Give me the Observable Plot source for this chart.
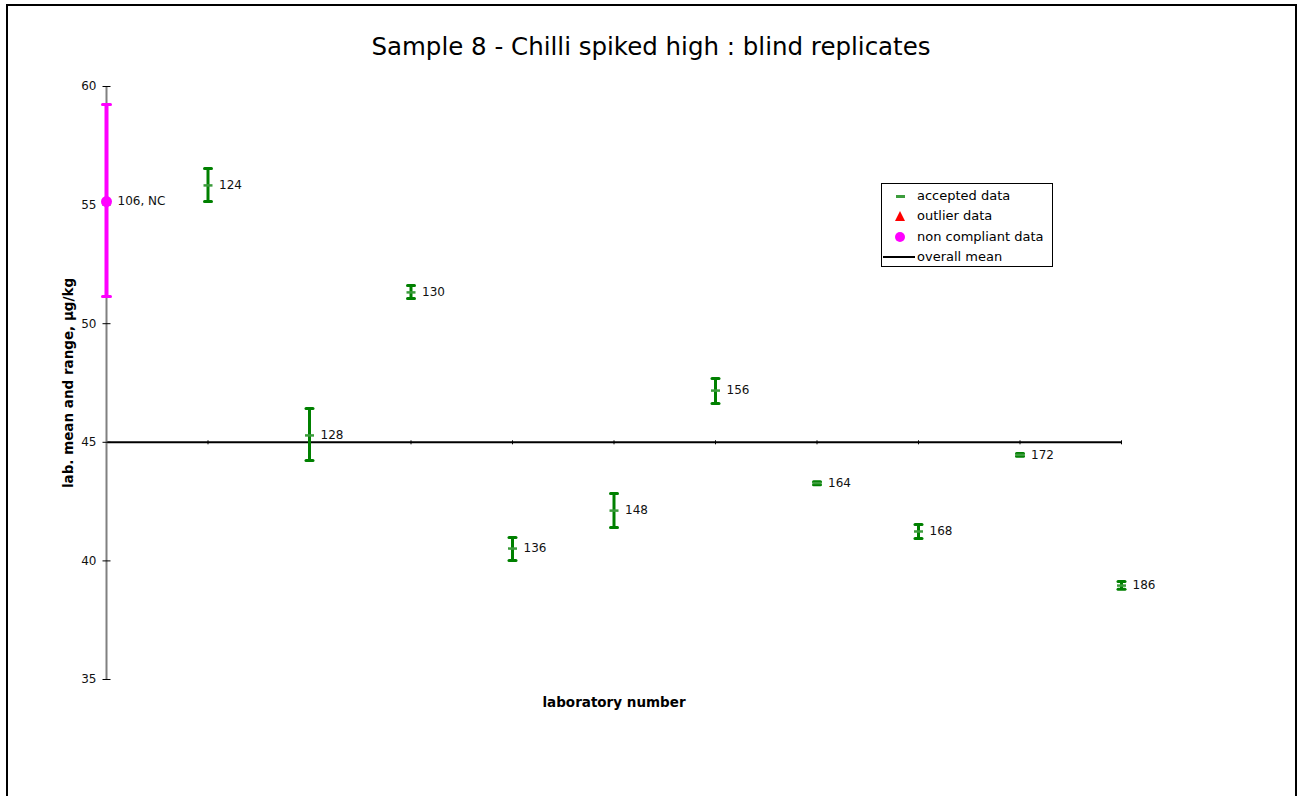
<!DOCTYPE html>
<html>
<head>
<meta charset="utf-8">
<script src="https://cdn.jsdelivr.net/npm/d3@7"></script>
<script src="https://cdn.jsdelivr.net/npm/@observablehq/plot@0.6"></script>
<style>
  html, body { margin: 0; padding: 0; background: #fff; }
  #fig { position: relative; width: 1304px; height: 796px; overflow: hidden; font-family: "DejaVu Sans", Verdana, sans-serif; }
  #frame { position: absolute; left: 6px; top: 4px; width: 1291px; height: 820px; border: 2px solid #000; box-sizing: border-box; }
  #chart { position: absolute; left: 0; top: 0; }
  #title { position: absolute; left: 0; top: 32px; width: 1302px; text-align: center; font-size: 24.5px; line-height: 30px; color: #000; }
  #legend { position: absolute; left: 881px; top: 183px; width: 172px; height: 84px; border: 1px solid #000; box-sizing: border-box; background: #fff; font-size: 13px; }
  .row { position: absolute; left: 0; height: 20px; line-height: 20px; width: 170px; }
  .row .lbl { position: absolute; left: 35px; top: 0; white-space: nowrap; color: #000; }
  .sym { position: absolute; }
</style>
</head>
<body>
<div id="fig">
  <div id="frame"></div>
  <div id="chart"></div>
  <div id="title"></div>
  <div id="legend"></div>
</div>
<script>
// ---- data ----
const chartTitle = "Sample 8 - Chilli spiked high : blind replicates";
const xLabel = "laboratory number";
const yLabel = "lab. mean and range, µg/kg";
const labs      = ["106", "124", "128", "130", "136", "148", "156", "164", "168", "172", "186"];
const means     = [55.15, 55.83, 45.29, 51.32, 40.52, 42.12, 47.18, 43.28, 41.24, 44.47, 38.96];
const lows      = [51.15, 55.15, 44.23, 51.06, 40.02, 41.41, 46.64, 43.21, 40.94, 44.41, 38.80];
const highs     = [59.24, 56.54, 46.42, 51.61, 40.99, 42.84, 47.69, 43.34, 41.53, 44.53, 39.13];
const statuses  = ["noncompliant", "accepted", "accepted", "accepted", "accepted", "accepted", "accepted", "accepted", "accepted", "accepted", "accepted"];
const pointLabels = ["106, NC", "124", "128", "130", "136", "148", "156", "164", "168", "172", "186"];
const overallMean = 45.0;
const yDomain = [35, 60];
const yTicks = [35, 40, 45, 50, 55, 60];
const legendItems = ["accepted data", "outlier data", "non compliant data", "overall mean"];

// ---- colours ----
const GREEN = "#008000";
const GREEN_LIGHT = "#3c9c3c";
const MAGENTA = "#ff00ff";
const RED = "#ff0000";

const rows = labs.map((lab, i) => ({lab, mean: means[i], low: lows[i], high: highs[i], status: statuses[i], label: pointLabels[i]}));
const acc = rows.filter(d => d.status === "accepted");
const nc = rows.filter(d => d.status === "noncompliant");

// custom marker shapes (pixel sizes of the glyph only)
const vtick = { draw(c) { c.moveTo(0, -2); c.lineTo(0, 2); } };
const hline = (w) => ({ draw(c) { c.moveTo(-w, 0); c.lineTo(w, 0); } });

const plot = Plot.plot({
  width: 1304,
  height: 796,
  marginLeft: 106,
  marginRight: 183,
  marginTop: 86,
  marginBottom: 117,
  x: {type: "point", domain: labs, padding: 0, round: false, axis: null},
  y: {domain: yDomain, axis: null},
  style: {fontFamily: "DejaVu Sans, Verdana, sans-serif", fontSize: "12px", background: "transparent", color: "#000"},
  marks: [
    // overall mean line
    Plot.ruleY([overallMean], {y: d => d, x1: () => labs[0], x2: () => labs[labs.length - 1], stroke: "#000", strokeWidth: 2}),
    Plot.dot(labs, {x: d => d, y: () => overallMean, symbol: vtick, r: 3, stroke: "#000", fill: "none", strokeWidth: 1}),
    // y axis line
    Plot.ruleX([labs[0]], {x: d => d, y1: () => yDomain[0], y2: () => yDomain[1], stroke: "#808080", strokeWidth: 2}),
    // y ticks crossing the axis
    Plot.dot(yTicks, {y: d => d, x: () => labs[0], symbol: hline(4), r: 3, stroke: "#000", fill: "none", strokeWidth: 1}),
    Plot.text(yTicks, {y: d => d, x: () => labs[0], text: d => String(d), dx: -10, textAnchor: "end", fontSize: 12, fill: "#111"}),
    // range bars - accepted
    Plot.ruleX(acc, {x: "lab", y1: "low", y2: "high", stroke: GREEN, strokeWidth: 3}),
    Plot.dot(acc, {x: "lab", y: "high", symbol: hline(3.5), r: 3, stroke: GREEN, fill: "none", strokeWidth: 3, strokeLinecap: "round"}),
    Plot.dot(acc, {x: "lab", y: "low", symbol: hline(3.5), r: 3, stroke: GREEN, fill: "none", strokeWidth: 3, strokeLinecap: "round"}),
    Plot.dot(acc, {x: "lab", y: "mean", symbol: hline(4.5), r: 3, stroke: GREEN_LIGHT, fill: "none", strokeWidth: 2.5}),
    // range bars - non compliant
    Plot.ruleX(nc, {x: "lab", y1: "low", y2: "high", stroke: MAGENTA, strokeWidth: 4}),
    Plot.dot(nc, {x: "lab", y: "high", symbol: hline(4), r: 3, stroke: MAGENTA, fill: "none", strokeWidth: 3, strokeLinecap: "round"}),
    Plot.dot(nc, {x: "lab", y: "low", symbol: hline(4), r: 3, stroke: MAGENTA, fill: "none", strokeWidth: 3, strokeLinecap: "round"}),
    Plot.dot(nc, {x: "lab", y: "mean", r: 5.5, fill: MAGENTA, stroke: "none"}),
    // point labels
    Plot.text(rows, {x: "lab", y: "mean", text: "label", dx: 11, textAnchor: "start", fontSize: 12, fill: "#111"}),
    // axis titles
    Plot.text([yLabel], {text: d => d, frameAnchor: "left", dx: -38, rotate: -90, textAnchor: "middle", lineAnchor: "middle", fontWeight: "bold", fontSize: 13.5, fill: "#000"}),
    Plot.text([xLabel], {text: d => d, frameAnchor: "bottom", dy: 23, lineAnchor: "middle", fontWeight: "bold", fontSize: 13.5, fill: "#000"})
  ]
});
document.getElementById("chart").appendChild(plot);
document.getElementById("title").textContent = chartTitle;

// ---- legend ----
const legend = document.getElementById("legend");
const centers = [12, 32, 53, 73];
legendItems.forEach((name, i) => {
  const row = document.createElement("div");
  row.className = "row";
  row.style.top = (centers[i] - 10) + "px";
  const sym = document.createElement("div");
  sym.className = "sym";
  if (i === 0) {
    Object.assign(sym.style, {left: "14px", top: "9px", width: "9px", height: "3px", background: GREEN_LIGHT});
  } else if (i === 1) {
    Object.assign(sym.style, {left: "13px", top: "5px", width: "0", height: "0", borderLeft: "5px solid transparent", borderRight: "5px solid transparent", borderBottom: "10px solid " + RED});
  } else if (i === 2) {
    Object.assign(sym.style, {left: "13px", top: "5px", width: "10px", height: "10px", borderRadius: "50%", background: MAGENTA});
  } else {
    Object.assign(sym.style, {left: "1px", top: "9px", width: "32px", height: "2px", background: "#000"});
  }
  const lbl = document.createElement("span");
  lbl.className = "lbl";
  lbl.textContent = name;
  row.appendChild(sym);
  row.appendChild(lbl);
  legend.appendChild(row);
});
</script>
</body>
</html>
